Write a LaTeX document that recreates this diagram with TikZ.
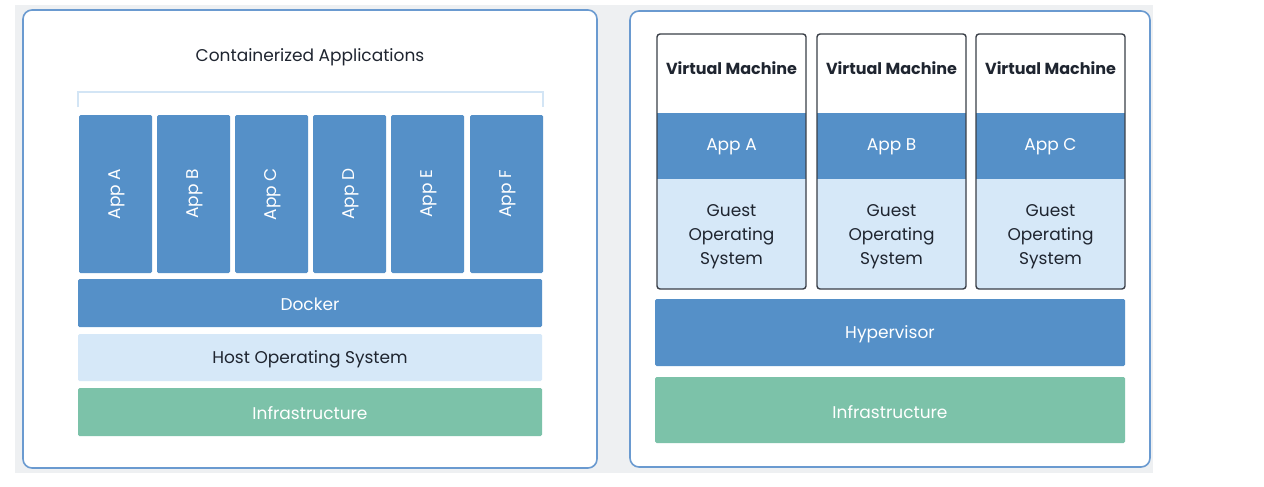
\documentclass[tikz,border=0pt]{standalone}
\usepackage{fontspec}
\setmainfont{Poppins}
\definecolor{bgray}{HTML}{EEF0F2}
\definecolor{pborder}{HTML}{6A9AD0}
\definecolor{appblue}{HTML}{5590C8}
\definecolor{lightblue}{HTML}{D6E8F8}
\definecolor{brk}{HTML}{D3E5F5}
\definecolor{infra}{HTML}{7CC2A9}
\definecolor{darktxt}{HTML}{1F2530}
\definecolor{vmborder}{HTML}{3A3F48}
\tikzset{
  panel/.style={draw=pborder, line width=1.6pt, fill=white, rounded corners=9pt},
  wtext/.style={text=white, font=\fontsize{17}{20}\selectfont},
  dtext/.style={text=darktxt, font=\fontsize{17}{20}\selectfont},
  vmbox/.style={draw=vmborder, line width=1.4pt, rounded corners=3pt},
}
\begin{document}
\begin{tikzpicture}[x=1pt,y=-1pt]
\useasboundingbox (0,0) rectangle (1264,487);
\fill[white] (0,0) rectangle (1264,487);
\fill[bgray] (15,5) rectangle (1153,473);
% left panel
\draw[panel] (23,10) rectangle (597,468);
\node[dtext] (title) at (310,57) {Containerized Applications};
\draw[brk, line width=2pt] (78,107) -- (78,92) -- (543,92) -- (543,107);
\foreach \l/\xa in {A/79,B/157,C/235,D/313,E/391,F/470}{
  \fill[appblue, rounded corners=1.5pt] (\xa,115) rectangle ++(73,158);
  \node[wtext, rotate=90] (app\l) at (\xa+37.5,194) {App \l};
}
\fill[appblue, rounded corners=1.5pt] (78,279) rectangle (542,327);
\node[wtext] (docker) at (310,304) {Docker};
\fill[lightblue, rounded corners=1.5pt] (78,334) rectangle (542,381);
\node[dtext] (hostos) at (310,359) {Host Operating System};
\fill[infra, rounded corners=1.5pt] (78,388) rectangle (542,436);
\node[wtext] (infraL) at (310,413) {Infrastructure};
% right panel
\draw[panel] (630,11) rectangle (1150,467);
\foreach \l/\xa in {A/657,B/817,C/976}{
  \fill[white, rounded corners=3pt] (\xa,34) rectangle ++(149,255);
  \fill[appblue] (\xa,113) rectangle ++(149,66);
  \fill[lightblue, rounded corners=3pt] (\xa,179) rectangle ++(149,110);
  \fill[lightblue] (\xa,179) rectangle ++(149,20);
  \draw[vmbox] (\xa,34) rectangle ++(149,255);
  \node[text=darktxt, font=\fontsize{16}{19}\selectfont\bfseries] (vm\l) at (\xa+74.5,68) {Virtual Machine};
  \node[wtext] (vapp\l) at (\xa+74.5,147) {App \l};
  \node[dtext, align=center, font=\fontsize{17}{24}\selectfont] (gos\l) at (\xa+74.5,237) {Guest\\Operating\\System};
}
\fill[appblue, rounded corners=1.5pt] (655,299) rectangle (1125,366);
\node[wtext] (hyper) at (890,334) {Hypervisor};
\fill[infra, rounded corners=1.5pt] (655,377) rectangle (1125,443);
\node[wtext] (infraR) at (890,412) {Infrastructure};
\end{tikzpicture}
\end{document}
